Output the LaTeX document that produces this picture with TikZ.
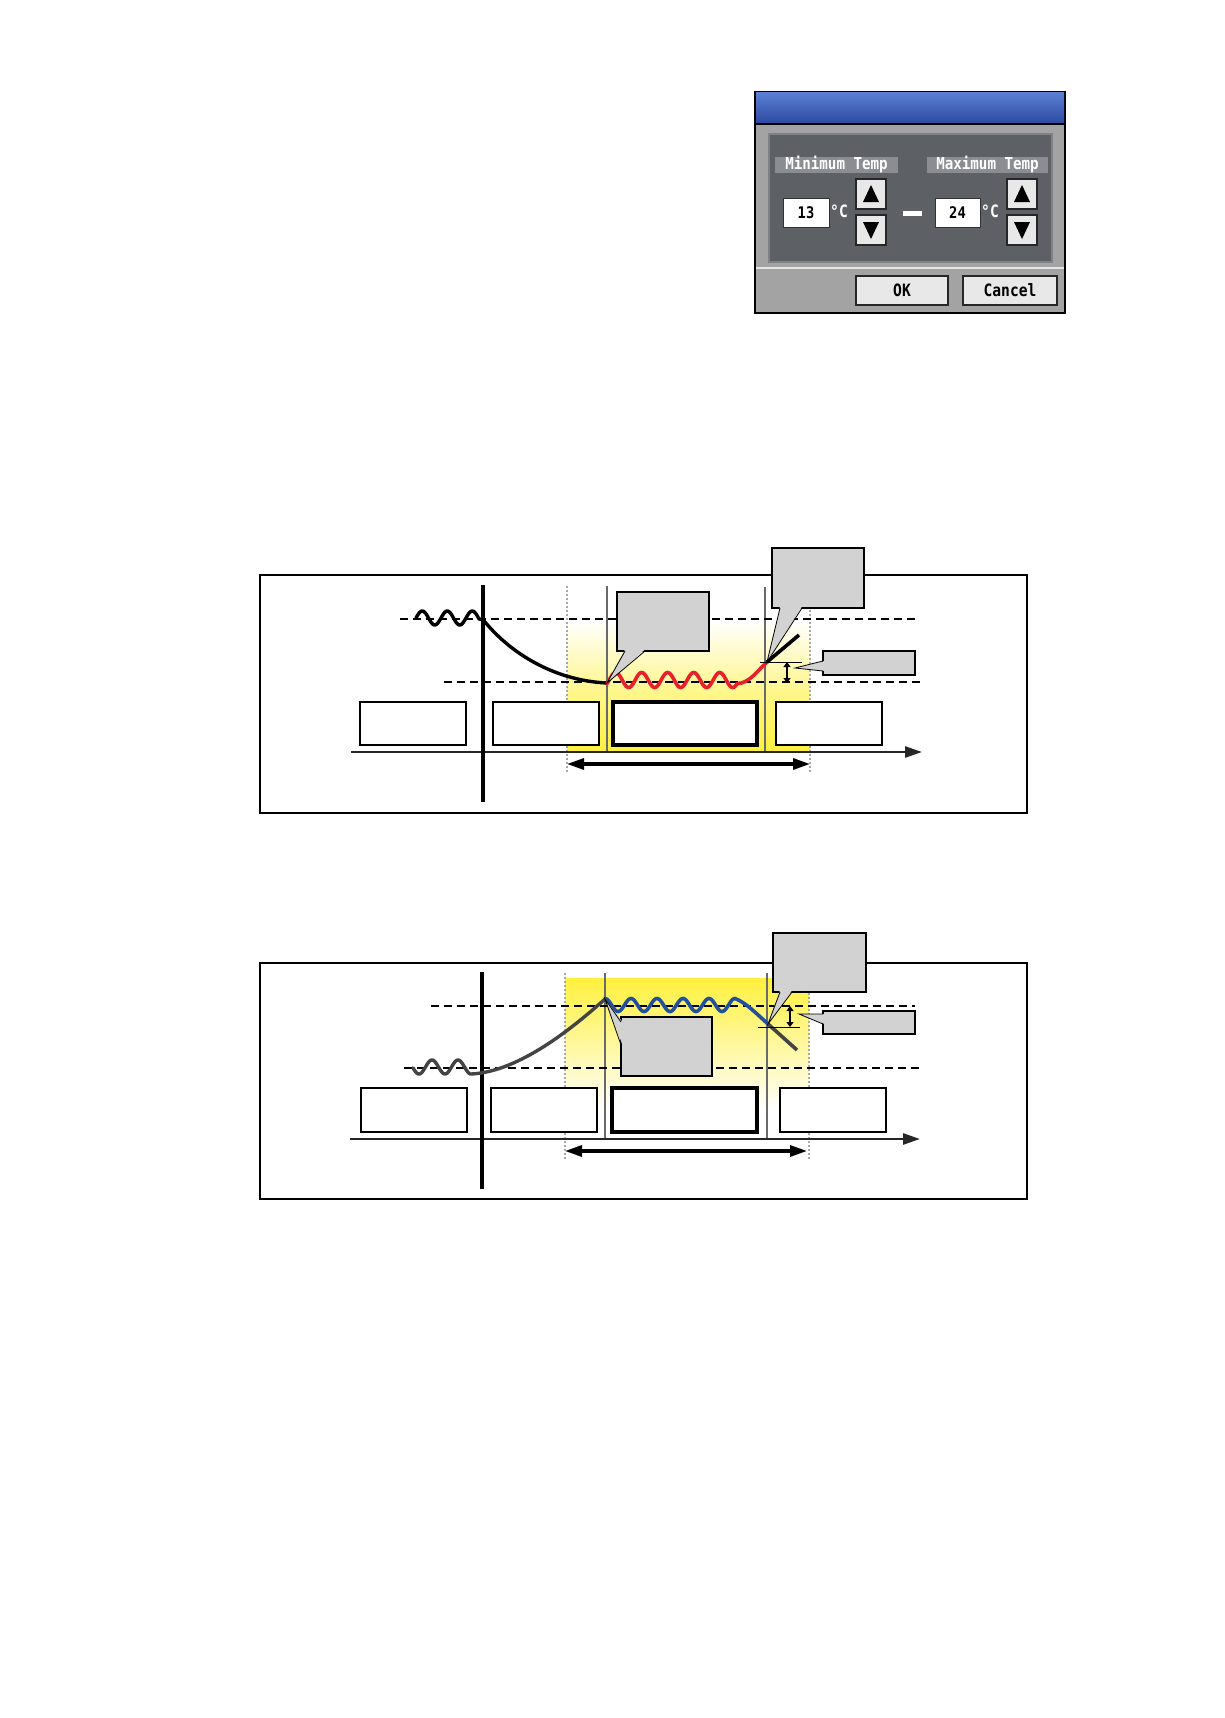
\documentclass[tikz,border=0pt]{standalone}
\usepackage{fontspec}
\newfontfamily\lcdfont[FakeStretch=0.86]{DejaVu Sans Mono}
\usepackage{tikz}
\usetikzlibrary{positioning}
\usetikzlibrary{calc,arrows.meta}

\definecolor{calloutgray}{HTML}{D2D2D2}
\definecolor{axisgray}{HTML}{6A6A6A}
\definecolor{dotgray}{HTML}{A8A8A8}
\definecolor{warmred}{HTML}{E5222B}
\definecolor{coolblue}{HTML}{22509E}
\definecolor{curvegray}{HTML}{444444}
\definecolor{bandyellow}{HTML}{FFF03C}
\definecolor{titletop}{HTML}{5B7FD2}
\definecolor{titlebot}{HTML}{2B48A0}
\definecolor{panelbody}{HTML}{A3A3A3}
\definecolor{paneldark}{HTML}{5D6065}
\definecolor{panelline}{HTML}{7E8186}
\definecolor{labelgray}{HTML}{8A8D92}
\definecolor{keygray}{HTML}{E8E8E8}

\begin{document}
\begin{tikzpicture}[x=1pt, y=-1pt,
Tbox/.style={draw=black, line width=1.3pt, fill=white, minimum width=106pt, minimum height=43pt, inner sep=0pt, outer sep=0pt},
Tthick/.style={Tbox, line width=3.5pt, minimum width=144pt},
Tcall/.style={draw=black, line width=2.2pt, fill=calloutgray, inner sep=0pt, outer sep=0pt, anchor=north west, minimum width=92pt},
Tlevel/.style={dash pattern=on 8pt off 5pt, line width=2.2pt},
Tguide/.style={axisgray, line width=2.2pt},
Tedge/.style={dotgray, line width=2pt, dash pattern=on 2pt off 2pt},
Tspan/.style={line width=3.2pt, {Triangle[length=17pt,width=11pt]}-{Triangle[length=17pt,width=11pt]}},
Tgap/.style={line width=2pt, {Triangle[length=5pt,width=7pt]}-{Triangle[length=5pt,width=7pt]}},
Taxis/.style={line width=2.6pt, black!85, -{Triangle[length=17pt,width=11pt]}},
Tkey/.style={draw=black!85, line width=1.2pt, fill=keygray, inner sep=0pt, outer sep=0pt, minimum width=30pt, minimum height=30pt},
Tlabel/.style={fill=labelgray, text=white, inner sep=0pt, minimum height=16pt, font=\lcdfont\bfseries\fontsize{16.5}{16}\selectfont},
Tvalue/.style={draw=black!80, line width=1pt, fill=white, inner sep=0pt, minimum height=29pt, font=\lcdfont\bfseries\fontsize{16}{16}\selectfont},
Tbutton/.style={draw=black!85, line width=1.4pt, fill=keygray, inner sep=0pt, minimum height=29pt, font=\lcdfont\bfseries\fontsize{17}{17}\selectfont},
]
\useasboundingbox[fill=white] (0,0) rectangle (1225,1718);

%Dialog
\filldraw[fill=panelbody, draw=black, line width=2pt] (755,92) rectangle (1065,313);
\shade[top color=titletop, bottom color=titlebot] (756,93) rectangle (1064,124);
\draw[line width=1.2pt] (756,124) -- (1064,124);
\filldraw[fill=paneldark, draw=panelline, line width=1.5pt] (769,134) rectangle (1052,262);
\draw[white!80!gray, line width=1.5pt] (756,268) -- (1064,268);
\node[Tlabel, minimum width=123pt] (minlbl) at (836.5,165) {Minimum Temp};
\node[Tlabel, minimum width=121pt] (maxlbl) at (987.5,165) {Maximum Temp};
\node[Tvalue, minimum width=46pt] (minval) at (806,212.5) {13};
\node[text=white, font=\lcdfont\bfseries\fontsize{17}{17}\selectfont, inner sep=0pt] (minunit) at (839,211) {°C};
\node[Tvalue, minimum width=45pt] (maxval) at (957.5,212.5) {24};
\node[text=white, font=\lcdfont\bfseries\fontsize{17}{17}\selectfont, inner sep=0pt] (maxunit) at (990,211) {°C};
\node[Tkey] (minup) at (871,194) {};
\node[Tkey] (mindown) at (871,230) {};
\node[Tkey] (maxup) at (1022,194) {};
\node[Tkey] (maxdown) at (1022,230) {};
\foreach \k in {minup,maxup}
  \fill ($(\k)+(0,-9)$) -- ($(\k)+(-8,8)$) -- ($(\k)+(8,8)$) -- cycle;
\foreach \k in {mindown,maxdown}
  \fill ($(\k)+(0,9)$) -- ($(\k)+(-8,-8)$) -- ($(\k)+(8,-8)$) -- cycle;
\fill[white] (903,211) rectangle (922,216);
\node[Tbutton, minimum width=92pt] (okbtn) at (902,290.5) {OK};
\node[Tbutton, minimum width=94pt] (cancelbtn) at (1010,290.5) {Cancel};

%Chart one (heating)
\draw[line width=1.3pt] (260,575) rectangle (1027,813);
\shade[top color=white, bottom color=bandyellow, middle color=bandyellow!55] (567,620) rectangle (810,752);
\draw[Tedge] (567,586) -- (567,773);
\draw[Tedge] (810,610) -- (810,773);
\draw[Tguide] (607,586) -- (607,752);
\draw[Tguide] (765,587) -- (765,752);
\draw[Tlevel] (400,619) -- (918,619);
\draw[Tlevel] (444,682) -- (922,682);
\draw[Taxis] (351,752) -- (922,752);
\draw[line width=3.5pt] (483,585) -- (483,802);
%Boxes
\node[Tbox] (A1) at (413,723.5) {};
\node[Tbox] (B1) [right=27pt of A1] {};
\node[Tthick] (C1) [right=14pt of B1] {};
\node[Tbox] (D1) [right=19pt of C1] {};
%Curves
\coordinate (low1) at (607,683);
\coordinate (turn1) at (767,662);
\draw[line width=3.4pt, line cap=round] plot[domain=416:479, samples=80] (\x,{618-7*sin((\x-416)/25*360)})
  .. controls (481,619) and (483,620) .. (485,622) .. controls (515,658) and (560,681) .. (low1);
\draw[warmred, line width=3.6pt, line cap=round] plot[domain=607:737, samples=160] (\x,{680-7.5*sin((\x-607)/26*360-30)})
  .. controls (750,683) and (758,670) .. (turn1);
\draw[line width=3.6pt] (turn1) -- (799,635);
\draw[line width=1pt] (760,662) -- (802,662);
\draw[Tgap] (787,662) -- (787,683);
\draw[Tspan] (567,764) -- (810,764);
%Callouts
\node[Tcall, minimum height=59pt] (L1) at (617,592) {};
\node[Tcall, minimum height=60pt] (T1) at (772,548) {};
\node[Tcall, minimum height=24pt] (S1) at (823,651) {};
\fill[calloutgray] (low1) -- ([xshift=8pt,yshift=1.5pt]L1.south west) -- ([xshift=28pt,yshift=1.5pt]L1.south west) -- cycle;
\draw[line width=0.8pt] ([xshift=8pt]L1.south west) -- (low1) -- ([xshift=28pt]L1.south west);
\fill[calloutgray] (turn1) -- ([xshift=8pt,yshift=1.5pt]T1.south west) -- ([xshift=30pt,yshift=1.5pt]T1.south west) -- cycle;
\draw[line width=0.8pt] ([xshift=8pt]T1.south west) -- (turn1) -- ([xshift=30pt]T1.south west);
\coordinate (gap1) at (795,668);
\fill[calloutgray] (gap1) -- ([xshift=1.5pt,yshift=-10pt]S1.north west) -- ([xshift=1.5pt,yshift=-20pt]S1.north west) -- cycle;
\draw[line width=0.8pt] ([yshift=-10pt]S1.north west) -- (gap1) -- ([yshift=-20pt]S1.north west);

%Chart two (cooling)
\draw[line width=1.3pt] (260,963) rectangle (1027,1199);
\shade[top color=bandyellow, bottom color=white, middle color=bandyellow!50] (565,978) rectangle (809,1110);
\draw[Tedge] (565,973) -- (565,1160);
\draw[Tedge] (809,993) -- (809,1160);
\draw[Tguide] (605,973) -- (605,1139);
\draw[Tguide] (767,973) -- (767,1139);
\draw[Tlevel] (431,1006) -- (915,1006);
\draw[Tlevel] (404,1068) -- (920,1068);
\draw[Taxis] (350,1139) -- (920,1139);
\draw[line width=3.5pt] (482,972) -- (482,1189);
%Boxes
\node[Tbox, minimum height=44pt] (A2) at (414,1110) {};
\node[Tbox, minimum height=44pt] (B2) [right=24pt of A2] {};
\node[Tthick, minimum height=44pt, minimum width=145pt] (C2) [right=15pt of B2] {};
\node[Tbox, minimum height=44pt] (D2) [right=23pt of C2] {};
%Curves
\coordinate (high2) at (605,999);
\coordinate (turn2) at (768,1024);
\draw[curvegray, line width=3.4pt, line cap=round] plot[domain=413:471, samples=80] (\x,{1067-7*sin((\x-425.5)/26*360)})
  .. controls (515,1072) and (565,1035) .. (high2);
\draw[coolblue, line width=3.6pt, line cap=round] plot[domain=605:735, samples=160] (\x,{1005-6.5*sin((\x-624.5)/26*360)})
  .. controls (745,1002) and (757,1014) .. (turn2);
\draw[curvegray, line width=3.6pt] (turn2) -- (797,1050);
\draw[line width=1pt] (758,1027) -- (800,1027);
\draw[Tgap] (790,1006) -- (790,1027);
\draw[Tspan] (565,1151) -- (807,1151);
%Callouts
\node[Tcall, minimum height=59pt, minimum width=91pt] (L2) at (621,1017) {};
\node[Tcall, minimum height=59pt, minimum width=93pt] (T2) at (773,933) {};
\node[Tcall, minimum height=23pt] (S2) at (823,1011) {};
\fill[calloutgray] (high2) -- ([xshift=1.5pt,yshift=-5pt]L2.north west) -- ([xshift=1.5pt,yshift=-28pt]L2.north west) -- cycle;
\draw[line width=0.8pt] ([yshift=-5pt]L2.north west) -- (high2) -- ([yshift=-28pt]L2.north west);
\fill[calloutgray] (turn2) -- ([xshift=7pt,yshift=1.5pt]T2.south west) -- ([xshift=19pt,yshift=1.5pt]T2.south west) -- cycle;
\draw[line width=0.8pt] ([xshift=7pt]T2.south west) -- (turn2) -- ([xshift=19pt]T2.south west);
\coordinate (gap2) at (799,1014);
\fill[calloutgray] (gap2) -- ([xshift=1.5pt,yshift=-3pt]S2.north west) -- ([xshift=1.5pt,yshift=-13pt]S2.north west) -- cycle;
\draw[line width=0.8pt] ([yshift=-3pt]S2.north west) -- (gap2) -- ([yshift=-13pt]S2.north west);
\end{tikzpicture}
\end{document}
